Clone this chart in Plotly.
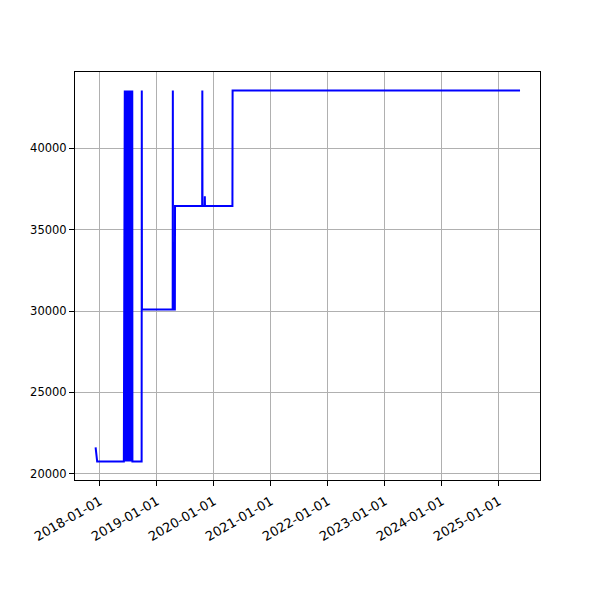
import plotly.graph_objects as go

dates = [
    "2017-12-04", "2017-12-14",
    "2018-06-03", "2018-06-05", "2018-06-07", "2018-06-09", "2018-06-11", "2018-06-13",
    "2018-06-15", "2018-06-17", "2018-06-19", "2018-06-21", "2018-06-23", "2018-06-25",
    "2018-06-27", "2018-06-29", "2018-07-01", "2018-07-03", "2018-07-05", "2018-07-07",
    "2018-07-09", "2018-07-11", "2018-07-13", "2018-07-15", "2018-07-17", "2018-07-19",
    "2018-07-21", "2018-07-23", "2018-07-25", "2018-07-27", "2018-07-28",
    "2018-09-25", "2018-09-26", "2018-09-27",
    "2019-04-12", "2019-04-13", "2019-04-14", "2019-04-26", "2019-04-27",
    "2019-10-18", "2019-10-19", "2019-10-20",
    "2019-11-03", "2019-11-04", "2019-11-05",
    "2020-04-29", "2020-04-30", "2025-05-16",
]
values = [
    21620, 20760,
    20760, 43550, 20760, 43550, 20760, 43550,
    20760, 43550, 20760, 43550, 20760, 43550,
    20760, 43550, 20760, 43550, 20760, 43550,
    20760, 43550, 20760, 43550, 20760, 43550,
    20760, 43550, 20760, 43550, 20760,
    20760, 43550, 30100,
    30100, 43550, 30100, 30100, 36450,
    36450, 43550, 36450,
    36450, 37060, 36450,
    36450, 43550, 43550,
]

x_tick_vals = ["2018-01-01", "2019-01-01", "2020-01-01", "2021-01-01",
               "2022-01-01", "2023-01-01", "2024-01-01", "2025-01-01"]
y_tick_vals = [20000, 25000, 30000, 35000, 40000]

fig = go.Figure()
fig.add_trace(go.Scatter(x=dates, y=values, mode="lines",
                         line=dict(color="#0000ff", width=2), showlegend=False))

fig.update_layout(
    width=600, height=600,
    paper_bgcolor="white", plot_bgcolor="white",
    margin=dict(l=67, r=68, t=64, b=128, autoexpand=False),
    font=dict(family="DejaVu Sans", size=11, color="black"),
    xaxis=dict(
        type="date",
        range=["2017-07-25", "2025-09-21"],
        tickvals=x_tick_vals, ticktext=x_tick_vals,
        tickangle=-30, tickfont=dict(size=13),
        ticklabelstandoff=3,
        showgrid=True, gridcolor="#b0b0b0", gridwidth=1,
        showline=True, linecolor="black", linewidth=1, mirror=True,
        ticks="outside", ticklen=5, tickcolor="black",
        zeroline=False, automargin=False,
    ),
    yaxis=dict(
        range=[19620, 44690],
        tickvals=y_tick_vals, ticktext=[str(v) for v in y_tick_vals],
        tickfont=dict(size=11.5),
        showgrid=True, gridcolor="#b0b0b0", gridwidth=1,
        showline=True, linecolor="black", linewidth=1, mirror=True,
        ticks="outside", ticklen=5, tickcolor="black",
        zeroline=False, automargin=False,
    ),
)

fig.write_html("out.html")
